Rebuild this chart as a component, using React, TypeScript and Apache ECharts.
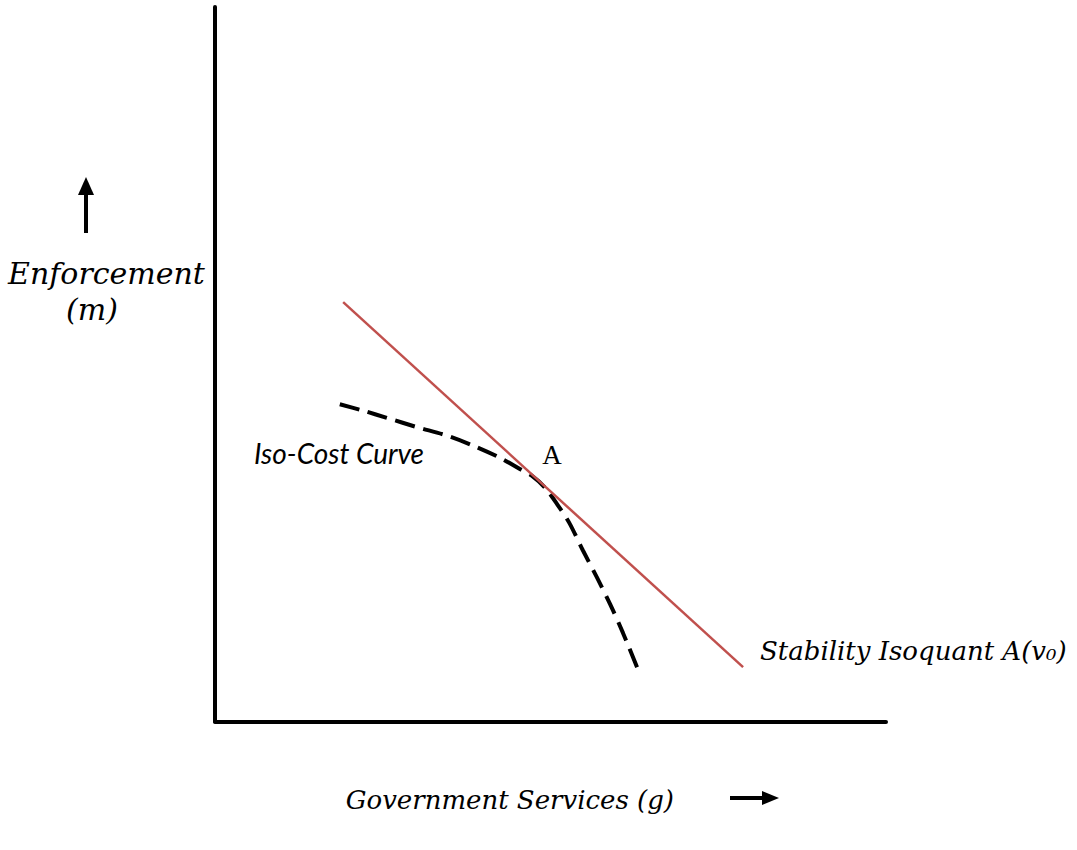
import React, { useEffect, useRef } from "react";
import * as echarts from "echarts";

// Stability isoquant A(v0): straight line (data units 0-100)
const isoquantG = [19.1, 78.7];
const isoquantM = [58.7, 7.6];

// Iso-cost curve (dashed)
const isoCostG = [18.6, 22.1, 25.6, 30.1, 34.6, 38.5, 42.5, 45.5, 47.2, 49.2, 51.0, 52.8, 54.8, 56.9, 58.9, 60.8, 62.9];
const isoCostM = [44.4, 43.5, 42.5, 41.2, 40.0, 38.6, 36.9, 35.3, 34.4, 32.7, 30.4, 27.8, 24.0, 20.2, 16.4, 12.4, 7.6];

const labels = {
  yTitle: "Enforcement",
  yUnit: "(m)",
  xTitle: "Government Services (g)",
  isoCost: "Iso-Cost Curve",
  point: "A",
  isoquant: "Stability Isoquant A(v₀)",
};

export default function App() {
  const ref = useRef<HTMLDivElement>(null);
  useEffect(() => {
    document.body.style.margin = "0";
    const chart = echarts.init(ref.current!, null, { renderer: "svg" });
    const serifItalic = (s: number) => `italic ${s}px 'DejaVu Serif'`;
    chart.setOption({
      animation: false,
      backgroundColor: "#ffffff",
      grid: { left: 215, top: 7, width: 671, height: 714.5, containLabel: false },
      xAxis: {
        type: "value",
        min: 0,
        max: 100,
        axisLine: { show: true, onZero: false, lineStyle: { color: "#000", width: 4 } },
        axisTick: { show: false },
        axisLabel: { show: false },
        splitLine: { show: false },
      },
      yAxis: {
        type: "value",
        min: 0,
        max: 100,
        axisLine: { show: true, onZero: false, lineStyle: { color: "#000", width: 4 } },
        axisTick: { show: false },
        axisLabel: { show: false },
        splitLine: { show: false },
      },
      series: [
        {
          type: "line",
          name: "Stability Isoquant",
          data: isoquantG.map((g, i) => [g, isoquantM[i]]),
          showSymbol: false,
          lineStyle: { color: "#c0504d", width: 2.5 },
          z: 3,
        },
        {
          type: "line",
          name: "Iso-Cost Curve",
          data: isoCostG.map((g, i) => [g, isoCostM[i]]),
          showSymbol: false,
          smooth: 0.3,
          lineStyle: { color: "#000", width: 4, type: [20, 9] },
          z: 2,
        },
      ],
      graphic: [
        // up arrow
        { type: "line", shape: { x1: 86, y1: 233, x2: 86, y2: 192 }, style: { stroke: "#000", lineWidth: 4 } },
        { type: "polygon", shape: { points: [[78, 195], [94, 195], [86, 177]] }, style: { fill: "#000" } },
        // right arrow
        { type: "line", shape: { x1: 730, y1: 798, x2: 765, y2: 798 }, style: { stroke: "#000", lineWidth: 4 } },
        { type: "polygon", shape: { points: [[762, 791], [762, 805], [779, 798]] }, style: { fill: "#000" } },
        {
          type: "text", x: 8, y: 273,
          style: { text: labels.yTitle, font: serifItalic(30), fill: "#000", align: "left", verticalAlign: "middle" },
        },
        {
          type: "text", x: 66, y: 309,
          style: { text: labels.yUnit, font: serifItalic(30), fill: "#000", align: "left", verticalAlign: "middle" },
        },
        {
          type: "text", x: 674, y: 800,
          style: { text: labels.xTitle, font: serifItalic(26), fill: "#000", align: "right", verticalAlign: "middle" },
        },
        {
          type: "text", x: 254, y: 453,
          style: { text: labels.isoCost, font: "italic 28px Lato", fill: "#000", align: "left", verticalAlign: "middle" },
        },
        {
          type: "text", x: 552, y: 455,
          style: { text: labels.point, font: "27px 'Liberation Serif'", fill: "#000", align: "center", verticalAlign: "middle" },
        },
        {
          type: "text", x: 760, y: 651,
          style: { text: labels.isoquant, font: serifItalic(26), fill: "#000", align: "left", verticalAlign: "middle" },
        },
      ],
    });
    return () => chart.dispose();
  }, []);
  return <div ref={ref} style={{ width: 1077, height: 850, background: "#fff" }} />;
}
